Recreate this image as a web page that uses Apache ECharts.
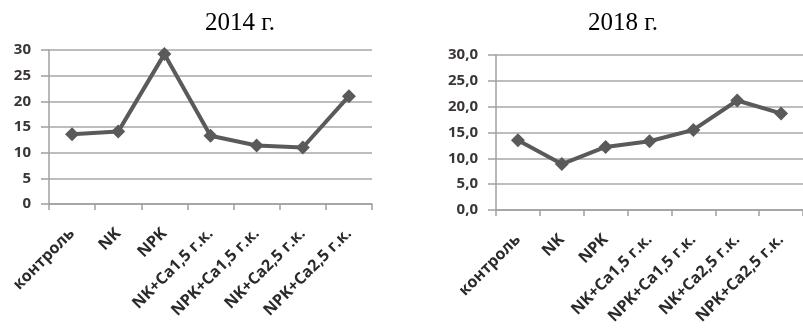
<!DOCTYPE html>
<html>
<head>
<meta charset="utf-8">
<script src="https://cdn.jsdelivr.net/npm/echarts@6/dist/echarts.min.js"></script>
<style>html,body{margin:0;padding:0;background:#fff;}#c{width:803px;height:332px;}</style>
</head>
<body>
<div id="c"></div>
<script>
var categories = ['контроль','NK','NPK','NK+Ca1,5 г.к.','NPK+Ca1,5 г.к.','NK+Ca2,5 г.к.','NPK+Ca2,5 г.к.'];
var values2014 = [13.6, 14.1, 29.2, 13.3, 11.4, 11.0, 21.0];
var values2018 = [13.5, 8.9, 12.2, 13.3, 15.5, 21.2, 18.7];
var titles = ['2014 г.', '2018 г.'];
var yMin = 0, yMax = 30, yStep = 5;

var chart = echarts.init(document.getElementById('c'), null, {renderer: 'canvas'});
var gridColor = '#bdbdbd';
var axisColor = '#a0a0a0';
var labelFont = {color: '#3a3636', fontFamily: 'Open Sans', fontWeight: 'bold', fontSize: 15};

function xAxis(gi) {
  return {
    type: 'category', gridIndex: gi, data: categories, boundaryGap: true,
    axisLine: {lineStyle: {color: axisColor, width: 1.5}},
    axisTick: {show: true, length: 6, lineStyle: {color: axisColor, width: 1.5}},
    axisLabel: Object.assign({interval: 0, rotate: 45, margin: 27}, labelFont, {color: '#2a2a2a', fontSize: 16})
  };
}
function yAxis(gi, fmt) {
  return {
    type: 'value', gridIndex: gi, min: yMin, max: yMax, interval: yStep,
    axisLine: {show: true, lineStyle: {color: axisColor, width: 1.5}},
    axisTick: {show: true, length: 8, lineStyle: {color: axisColor, width: 1.5}},
    splitLine: {show: true, lineStyle: {color: gridColor, width: 2}},
    axisLabel: Object.assign({margin: 18, formatter: fmt}, labelFont)
  };
}
function series(gi, data) {
  return {
    type: 'line', xAxisIndex: gi, yAxisIndex: gi, data: data,
    symbol: 'diamond', symbolSize: 14, showAllSymbol: true,
    lineStyle: {color: '#5a5a5a', width: 4},
    itemStyle: {color: '#5a5a5a'},
    animation: false
  };
}
chart.setOption({
  animation: false,
  title: [
    {text: titles[0], left: 235, top: 6, textAlign: 'center', textStyle: {fontFamily: 'Liberation Serif', fontWeight: 'normal', fontSize: 25, color: '#000'}},
    {text: titles[1], left: 618, top: 6, textAlign: 'center', textStyle: {fontFamily: 'Liberation Serif', fontWeight: 'normal', fontSize: 25, color: '#000'}}
  ],
  grid: [
    {left: 49, top: 50, width: 323, height: 154},
    {left: 496, top: 55, width: 308, height: 155}
  ],
  xAxis: [xAxis(0), xAxis(1)],
  yAxis: [
    yAxis(0, function (v) { return String(v); }),
    yAxis(1, function (v) { return v.toFixed(1).replace('.', ','); })
  ],
  series: [series(0, values2014), series(1, values2018)]
});
</script>
</body>
</html>
